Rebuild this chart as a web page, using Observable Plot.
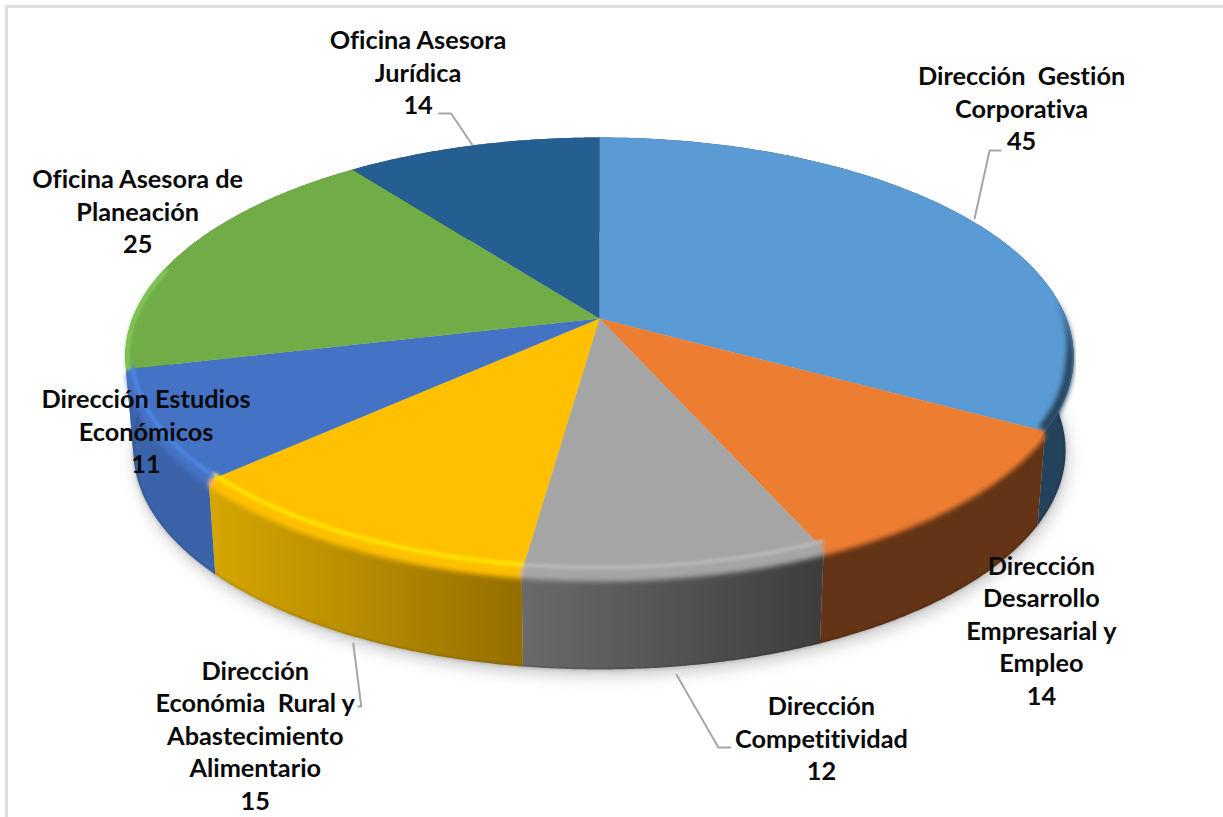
<!DOCTYPE html>
<html><head><meta charset="utf-8">
<script src="https://cdn.jsdelivr.net/npm/d3@7"></script>
<script src="https://cdn.jsdelivr.net/npm/@observablehq/plot@0.6"></script>
<style>html,body{margin:0;padding:0;background:#fff;overflow:hidden}svg{display:block}</style>
</head><body><div id="chart"></div>
<script>
// Chart values
const names = ["Dirección  Gestión\nCorporativa","Dirección\nDesarrollo\nEmpresarial y\nEmpleo","Dirección\nCompetitividad","Dirección\nEconómia  Rural y\nAbastecimiento\nAlimentario","Dirección Estudios\nEconómicos","Oficina Asesora de\nPlaneación","Oficina Asesora\nJurídica"];
const values = [45,14,12,15,11,25,14];
const topColors = ["#5b9bd5","#ed7d31","#a5a5a5","#ffc000","#4472c4","#70ad47","#255e91"];
const wallColors = ["#25425c","#633416","url(#wallGray)","url(#wallYellow)","#3a63aa","#4f7a33","#1a4266"];
const glowColors = [null,null,"#b8b8b8","#ffe600","#4d86e6","#82c95a",null];
const glowInsets = [0,0,8,8,7,2,0];
// Label and leader placement, as offsets from each slice's rim midpoint
const labelOffsets = [[52,-110],[81,133],[144,167],[-87,196],[-4,6],[-47,-38],[-54,-72]];
const leaderOffsets = [[[5,-1],[20,-69],[31,-69]],null,[[-1,102],[41,175],[53,175]],[[11,103],[19,166],[16,166]],null,null,[[0,-1],[-21,-32],[-33,-32]]];
const wallOrder = [6,5,0,1,4,3,2];
// Projection of the tilted disc
const cx=599, cy=318, a=467, k=212.4, p=0.1735, depth=94, bottomScale=0.983, bevel=8, lip=6;
const project=t=>{const u=Math.sin(t),v=-Math.cos(t),w=1-p*v;return [cx+a*u/w,cy+k*v/w];};
const inset=(t,d)=>{const [x,y]=project(t),[x2,y2]=project(t+0.001),tx=x2-x,ty=y2-y,n=Math.hypot(tx,ty);return [x-ty/n*d,y+tx/n*d];};
const toBottom=([x,y])=>[cx+(x-cx)*bottomScale,y+depth];
const pie=d3.pie().sort(null)(values);
const samples=(s,n=90)=>d3.range(n+1).map(j=>s.startAngle+(s.endAngle-s.startAngle)*j/n);
const rows=[],walls=[],shades=[],lips=[],glows=[],leaders=[],labels=[],outline=[];
wallOrder.forEach(i=>{
  const rim=samples(pie[i]).map(t=>project(t));
  const bot=rim.map(toBottom).reverse();
  [...rim,...bot].forEach(([x,y])=>walls.push({i,x,y,c:wallColors[i]}));
  bot.forEach(([x,y])=>outline.push({i,x,y}));
});
pie.forEach((s,i)=>{
  const ts=samples(s);
  ts.forEach(t=>{const [x,y]=project(t);rows.push({i,x,y,c:topColors[i]});});
  rows.push({i,x:cx,y:cy,c:topColors[i]});
  const front=ts.filter(t=>-Math.cos(t)>-0.1);
  const taper=t=>Math.max(0,Math.min(1,(-Math.cos(t)+0.1)/0.3));
  if(i===0){
    const outer=front.map(t=>{const [x,y]=project(t);return {i,x,y:y+3*taper(t),c:wallColors[i]};});
    const inner=front.map(t=>{const [x,y]=inset(t,bevel*taper(t));return {i,x,y,c:wallColors[i]};}).reverse();
    shades.push(...outer,...inner);
  } else if(i<5){
    const outer=ts.map(t=>{const [x,y]=project(t);return {i,x,y:y+lip,c:topColors[i]};});
    const inner=ts.map(t=>{const [x,y]=inset(t,6);return {i,x,y,c:topColors[i]};}).reverse();
    lips.push(...outer,...inner);
  }
  if(glowColors[i]) ts.filter(t=>-Math.cos(t)>-0.25).forEach(t=>{const [x,y]=inset(t,glowInsets[i]);glows.push({i,x,y,c:glowColors[i]});});
  const m=project((s.startAngle+s.endAngle)/2);
  labels.push({x:m[0]+labelOffsets[i][0],y:m[1]+labelOffsets[i][1],text:`${names[i]}\n${values[i]}`});
  if(leaderOffsets[i]) leaderOffsets[i].forEach(o=>leaders.push({i,x:m[0]+o[0],y:m[1]+o[1]}));
});
const shadow=d3.range(0,361,3).map(d=>{const [x,y]=toBottom(project(d*Math.PI/180));return {x:x+2,y:y+6};});
const chart=Plot.plot({
  width:1223,height:817,margin:0,
  x:{domain:[0,1223],range:[0,1223],axis:null},
  y:{domain:[0,817],range:[0,817],axis:null},
  color:{type:"identity"},
  marks:[
    Plot.ruleY([6],{x1:5,x2:1223,stroke:"#dedede",strokeWidth:3}),
    Plot.ruleX([6],{y1:5,y2:817,stroke:"#dedede",strokeWidth:3}),
    Plot.line(shadow,{x:"x",y:"y",fill:"#9a9a9a",stroke:"none",className:"shadow"}),
    Plot.line(walls,{x:"x",y:"y",z:"i",fill:"c",stroke:"none",className:"walls"}),
    Plot.line(outline,{x:"x",y:"y",z:"i",stroke:"#000",strokeOpacity:0.18,strokeWidth:2,className:"wallEdge"}),
    Plot.line(rows,{x:"x",y:"y",z:"i",fill:"c",stroke:"none",className:"tops"}),
    Plot.line(shades,{x:"x",y:"y",z:"i",fill:"c",stroke:"none",className:"shades"}),
    Plot.line(lips,{x:"x",y:"y",z:"i",fill:"c",stroke:"none",className:"lips"}),
    Plot.line(glows,{x:"x",y:"y",z:"i",stroke:"c",strokeWidth:4,className:"glows"}),
    Plot.line(leaders,{x:"x",y:"y",z:"i",stroke:"#a6a6a6",strokeWidth:2}),
    Plot.text(labels,{x:"x",y:"y",dy:-2,text:"text",fontFamily:"Lato",fontWeight:700,fontSize:25.3,lineHeight:1.285,fill:"#0a0a0a",textAnchor:"middle",lineAnchor:"middle"})
  ]
});
const svg=d3.select(chart);
const defs=svg.append("defs");
const grad=(id,a1,b1)=>{const g=defs.append("linearGradient").attr("id",id);g.append("stop").attr("offset","0").attr("stop-color",a1);g.append("stop").attr("offset","1").attr("stop-color",b1);};
grad("wallGray","#6a6a6a","#3d3d3d");
grad("wallYellow","#d6a600","#946f00");
const blur=(id,s)=>defs.append("filter").attr("id",id).attr("x","-5%").attr("y","-5%").attr("width","110%").attr("height","110%").append("feGaussianBlur").attr("stdDeviation",s);
blur("b1",1.5);blur("b2",2.5);blur("b3",8);
svg.selectAll("g.shadow").attr("filter","url(#b3)").attr("opacity",0.55);
svg.selectAll("g.shades").attr("filter","url(#b2)");
svg.selectAll("g.lips").attr("filter","url(#b2)");
svg.selectAll("g.glows").attr("filter","url(#b1)");
svg.selectAll("g.wallEdge").attr("filter","url(#b1)");
svg.selectAll("text").style("white-space","pre").style("font-variant-ligatures","none");
document.getElementById("chart").appendChild(chart);
</script></body></html>
